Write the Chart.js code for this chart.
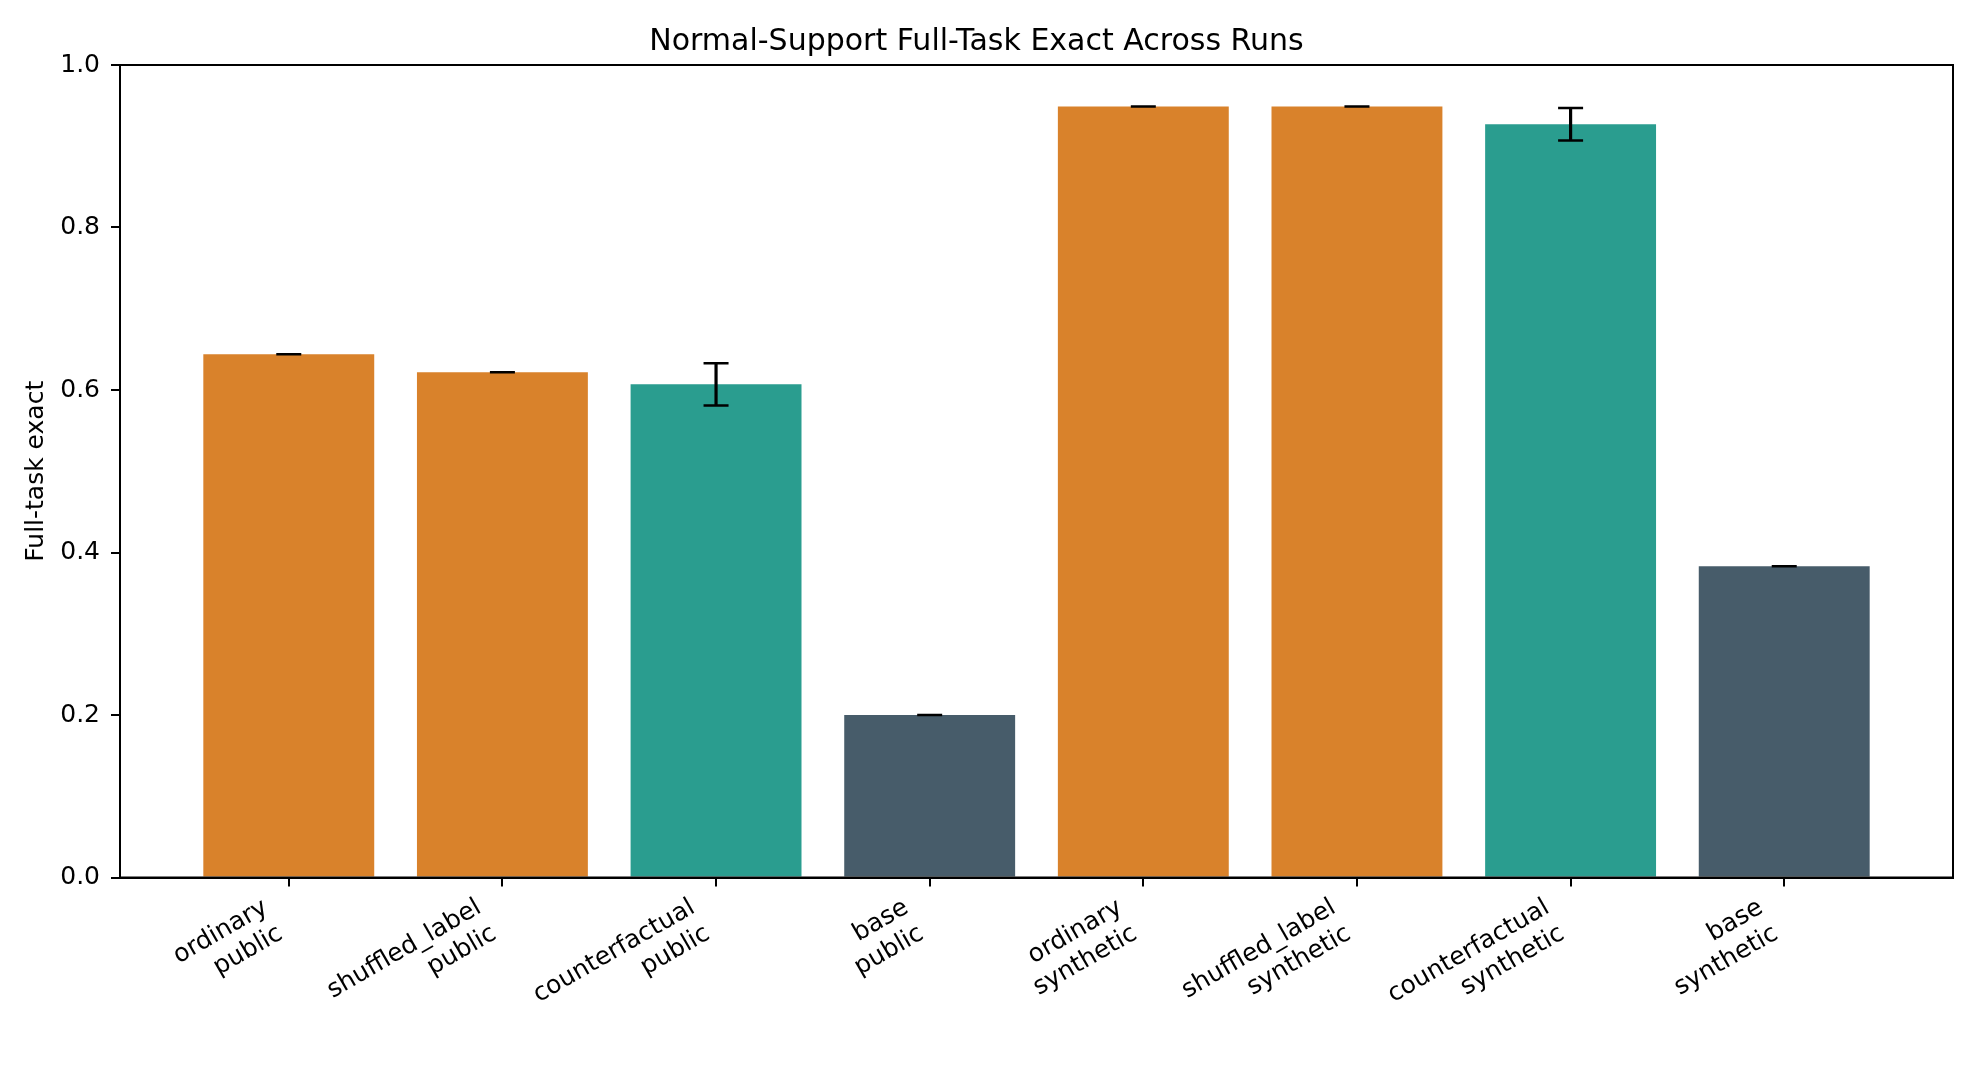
<!DOCTYPE html>
<html>
<head>
<meta charset="utf-8">
<script src="https://cdn.jsdelivr.net/npm/chart.js@4.4.1/dist/chart.umd.min.js"></script>
<style>
  html, body { margin: 0; padding: 0; background: #fff; }
  #wrap { width: 1980px; height: 1080px; }
</style>
</head>
<body>
<div id="wrap"><canvas id="chart" width="1980" height="1080"></canvas></div>
<script>
// data
const categories = [
  ["ordinary", "public"], ["shuffled_label", "public"], ["counterfactual", "public"], ["base", "public"],
  ["ordinary", "synthetic"], ["shuffled_label", "synthetic"], ["counterfactual", "synthetic"], ["base", "synthetic"]
];
const values = [0.644, 0.622, 0.607, 0.200, 0.949, 0.949, 0.927, 0.383];
const errors = [0, 0, 0.026, 0, 0, 0, 0.020, 0];
const groups = ["ordinary", "ordinary", "counterfactual", "base", "ordinary", "ordinary", "counterfactual", "base"];
const yTicks = [0, 0.2, 0.4, 0.6, 0.8, 1.0];

const groupColors = { ordinary: "#D9822B", counterfactual: "#2A9D8F", base: "#475C6A" };

Chart.defaults.font.family = "'DejaVu Sans', sans-serif";
Chart.defaults.color = "#000";

const FONT = { size: 25 };
const LABEL_SHIFT = 0.108; // matplotlib anchors rotated labels by their bbox corner

// error bars + the closed frame of the axes
const extras = {
  id: "extras",
  afterDatasetsDraw(chart) {
    const { ctx, chartArea: a, scales: { x, y } } = chart;
    ctx.save();
    ctx.strokeStyle = "#000";
    values.forEach((v, i) => {
      const px = x.getPixelForValue(i);
      const top = y.getPixelForValue(v + errors[i]);
      const bot = y.getPixelForValue(v - errors[i]);
      ctx.lineWidth = 3.2;
      ctx.beginPath();
      ctx.moveTo(px, top); ctx.lineTo(px, bot);
      ctx.stroke();
      ctx.lineWidth = 2.5;
      ctx.beginPath();
      ctx.moveTo(px - 12.5, top); ctx.lineTo(px + 12.5, top);
      ctx.moveTo(px - 12.5, bot); ctx.lineTo(px + 12.5, bot);
      ctx.stroke();
    });
    ctx.lineWidth = 2;
    ctx.strokeRect(a.left, a.top, a.right - a.left, a.bottom - a.top);
    ctx.restore();
  }
};

new Chart(document.getElementById("chart"), {
  type: "bar",
  data: {
    datasets: [{
      data: values.map((v, i) => ({ x: i, y: v })),
      backgroundColor: groups.map(g => groupColors[g]),
      barPercentage: 0.8,
      categoryPercentage: 1.0,
      xAxisID: "x",
      yAxisID: "y"
    }]
  },
  options: {
    responsive: false,
    animation: false,
    devicePixelRatio: 1,
    layout: { padding: { left: 0, right: 27, top: 0, bottom: 0 } },
    plugins: {
      legend: { display: false },
      tooltip: { enabled: false },
      title: {
        display: true,
        text: "Normal-Support Full-Task Exact Across Runs",
        font: { size: 30, weight: "normal" },
        color: "#000",
        padding: { top: 24.6, bottom: 4.4 }
      }
    },
    scales: {
      x: {
        type: "linear",
        position: "bottom",
        weight: 0,
        offset: false,
        min: -0.79,
        max: 7.79,
        ticks: { display: false, stepSize: 1, includeBounds: false },
        grid: { display: true, offset: false, drawOnChartArea: false, drawTicks: true, tickLength: 9, color: "#000", lineWidth: 2 },
        border: { display: true, color: "#000", width: 2 },
        afterFit: s => { s.height = 9; }
      },
      xLabels: {
        type: "linear",
        position: "bottom",
        weight: 1,
        offset: false,
        min: -0.79 + LABEL_SHIFT,
        max: 7.79 + LABEL_SHIFT,
        ticks: {
          stepSize: 1,
          includeBounds: false,
          autoSkip: false,
          minRotation: 30,
          maxRotation: 30,
          padding: 6.5,
          font: FONT,
          color: "#000",
          callback: v => (Number.isInteger(v) && categories[v]) ? categories[v] : ""
        },
        grid: { display: false, offset: false, drawTicks: false },
        border: { display: false },
        afterFit: s => { s.height = 1080 - 877.5 - 9; }
      },
      y: {
        type: "linear",
        min: 0,
        max: 1,
        afterBuildTicks: s => { s.ticks = yTicks.map(v => ({ value: v })); },
        ticks: { font: FONT, color: "#000", padding: 11, callback: v => v.toFixed(1) },
        grid: { display: true, drawOnChartArea: false, drawTicks: true, tickLength: 9, color: "#000", lineWidth: 2 },
        border: { display: true, color: "#000", width: 2 },
        title: { display: true, text: "Full-task exact", font: FONT, color: "#000", padding: { top: 21.5, bottom: 0 } },
        afterFit: s => { s.width = 120; }
      }
    }
  },
  plugins: [extras]
});
</script>
</body>
</html>
